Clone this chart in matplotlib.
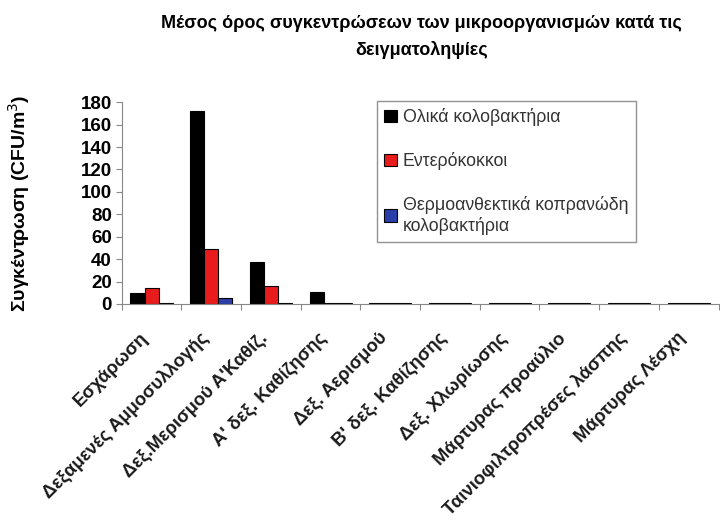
import numpy as np
import matplotlib.pyplot as plt
from matplotlib.transforms import ScaledTranslation

plt.rcParams['font.family'] = ['Liberation Sans', 'DejaVu Sans']

sites = ['Εσχάρωση', 'Δεξαμενές Αμμοσυλλογής', 'Δεξ.Μερισμού Α\'Καθίζ.',
         'Α\' δεξ. Καθίζησης', 'Δεξ. Αερισμού', 'Β\' δεξ. Καθίζησης',
         'Δεξ. Χλωρίωσης', 'Μάρτυρας προαύλιο', 'Ταινιοφιλτροπρέσες λάσπης',
         'Μάρτυρας Λέσχη']
total_coliforms = [9.5, 172, 37.5, 11, 1, 1, 1, 1, 1, 1]
enterococci = [14, 49, 16, 1, 1, 1, 1, 1, 1, 1]
fecal_coliforms = [1, 5, 1, 1, 1, 1, 1, 1, 1, 1]
series_names = ['Ολικά κολοβακτήρια', 'Εντερόκοκκοι',
                'Θερμοανθεκτικά κοπρανώδη\nκολοβακτήρια']
colors = ['#000000', '#e81c1c', '#2b3fa8']

fig = plt.figure(figsize=(7.2, 5.24), dpi=100)
ax = fig.add_axes([0.169, 0.42, 0.829, 0.385])

x = np.arange(len(sites))
w = 0.235
for i, (vals, name, c) in enumerate(zip([total_coliforms, enterococci, fecal_coliforms],
                                        series_names, colors)):
    ax.bar(x + (i - 1) * w, vals, w, color=c, edgecolor='black', linewidth=0.8,
           label=name)

ax.set_xlim(-0.5, len(sites) - 0.5)
ax.set_ylim(0, 180)
ax.set_yticks(range(0, 181, 20))
ax.set_xticks(np.arange(len(sites) + 1) - 0.5, minor=False)
ax.set_xticklabels([])
ax.set_xticks(x, minor=True)
ax.set_xticklabels(sites, minor=True, rotation=45, ha='right', va='top',
                   rotation_mode='anchor', fontsize=13.2, fontweight='bold',
                   color='#1a1a1a')
ax.tick_params(axis='x', which='minor', length=0, pad=14)
ax.tick_params(axis='x', which='major', length=4, color='#888888', direction='out')
ax.tick_params(axis='y', length=4, color='#888888', labelsize=13.5, pad=3)
for lab in ax.get_yticklabels():
    lab.set_fontweight('bold')

# nudge the slanted category names down-left
shift = ScaledTranslation(-0.12, -0.06, fig.dpi_scale_trans)
for lab in ax.get_xticklabels(minor=True):
    lab.set_transform(lab.get_transform() + shift)

for s in ['top', 'right']:
    ax.spines[s].set_visible(False)
for s in ['left', 'bottom']:
    ax.spines[s].set_color('#888888')

ax.set_ylabel('Συγκέντρωση (CFU/m$^3$)', fontsize=14, fontweight='bold')
ax.yaxis.set_label_coords(-0.15, 0.5)

leg = ax.legend(loc='upper left', bbox_to_anchor=(0.428, 1.005), fontsize=12.8,
                frameon=True, fancybox=False, edgecolor='#777777',
                labelspacing=1.45, handlelength=0.7, handleheight=0.7,
                handletextpad=0.35, borderpad=0.4, borderaxespad=0)
leg.get_frame().set_linewidth(1.0)
for t in leg.get_texts():
    t.set_color('#333333')

fig.text(0.585, 0.955, 'Μέσος όρος συγκεντρώσεων των μικροοργανισμών κατά τις',
         ha='center', va='center', fontsize=13, fontweight='bold')
fig.text(0.585, 0.905, 'δειγματοληψίες', ha='center', va='center',
         fontsize=13, fontweight='bold')

fig.savefig('out.png', dpi=100)
